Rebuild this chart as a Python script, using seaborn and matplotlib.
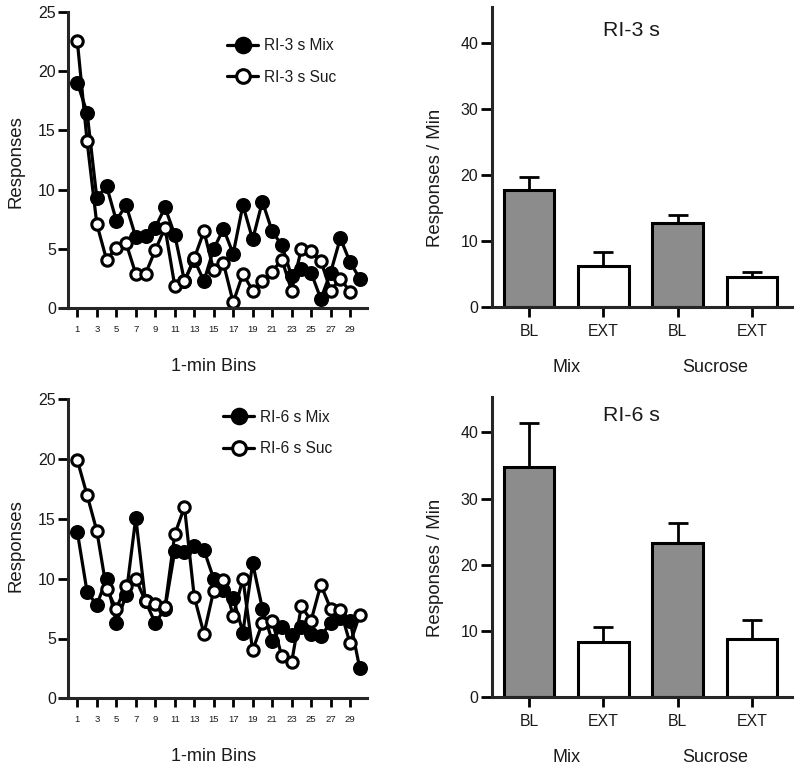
import numpy as np
import pandas as pd
import matplotlib
matplotlib.use("Agg")
import matplotlib.pyplot as plt
import matplotlib.transforms as mtransforms
import seaborn as sns

# ---------------- data ----------------
bins = list(range(1, 31))

ri3_mix = [19.0, 16.5, 9.3, 10.3, 7.4, 8.7, 6.0, 6.1, 6.8, 8.5,
           6.2, 2.3, 4.1, 2.3, 5.0, 6.7, 4.6, 8.7, 5.8, 9.0,
           6.5, 5.3, 2.7, 3.3, 3.0, 0.8, 3.0, 5.9, 3.9, 2.5]
ri3_suc = [22.5, 14.1, 7.1, 4.1, 5.1, 5.5, 2.9, 2.9, 4.9, 6.8,
           1.9, 2.3, 4.2, 6.5, 3.2, 3.8, 0.5, 2.9, 1.5, 2.3,
           3.1, 4.1, 1.5, 5.0, 4.8, 4.0, 1.5, 2.5, 1.4]

ri6_mix = [13.9, 8.9, 7.8, 10.0, 6.3, 8.6, 15.1, 8.1, 6.3, 7.5,
           12.3, 12.2, 12.7, 12.4, 10.0, 9.05, 8.4, 5.5, 11.3, 7.5,
           4.8, 6.0, 5.3, 6.0, 5.4, 5.2, 6.3, 6.7, 6.5, 2.5]
ri6_suc = [19.9, 17.0, 14.0, 9.1, 7.5, 9.4, 10.0, 8.1, 7.9, 7.6,
           13.7, 16.0, 8.5, 5.4, 9.0, 9.9, 6.9, 10.0, 4.0, 6.3,
           6.5, 3.5, 3.0, 7.7, 6.5, 9.5, 7.5, 7.4, 4.6, 7.0]

bar_conds = ["Mix BL", "Mix EXT", "Suc BL", "Suc EXT"]
bar_ticklabels = ["BL", "EXT", "BL", "EXT"]
group_labels = ["Mix", "Sucrose"]
ri3_bar_mean = [17.8, 6.3, 12.8, 4.6]
ri3_bar_err = [1.9, 2.1, 1.1, 0.7]
ri6_bar_mean = [34.8, 8.3, 23.3, 8.8]
ri6_bar_err = [6.7, 2.3, 3.0, 2.8]

# ---------------- style ----------------
sns.set_theme(style="ticks")
plt.rcParams["font.family"] = ["Liberation Sans", "DejaVu Sans"]
plt.rcParams["axes.linewidth"] = 2.2
TXT = "#1a1a1a"

fig = plt.figure(figsize=(8, 7.71), dpi=100)
W, H = 800.0, 771.0


def add_ax(left, right, top_px, bottom_px):
    return fig.add_axes([left / W, 1 - bottom_px / H,
                         (right - left) / W, (bottom_px - top_px) / H])


def line_panel(ax, mix, suc, lab_mix, lab_suc, leg_xy, ylab_y):
    sns.lineplot(x=bins[:len(mix)], y=mix, ax=ax, color="black", lw=2.3,
                 marker="o", markersize=9.4, markerfacecolor="black",
                 markeredgecolor="black", markeredgewidth=1.4,
                 label=lab_mix, clip_on=False)
    sns.lineplot(x=bins[:len(suc)], y=suc, ax=ax, color="black", lw=2.3,
                 marker="o", markersize=8.2, markerfacecolor="white",
                 markeredgecolor="black", markeredgewidth=2.2,
                 label=lab_suc, clip_on=False)
    ax.set_xlim(-0.78, 30.74)
    ax.set_ylim(0, 25)
    ax.spines["left"].set_position(("data", 0))
    ax.spines["top"].set_visible(False)
    ax.spines["right"].set_visible(False)
    ax.set_xticks(bins[::2])
    ax.set_xticklabels([str(b) for b in bins[::2]], fontsize=6.8)
    ax.set_yticks([0, 5, 10, 15, 20, 25])
    ax.tick_params(axis="y", length=7, width=2, pad=1.5, labelsize=11.5,
                   colors="black", labelcolor=TXT)
    ax.tick_params(axis="x", length=6.5, width=2, pad=5.5, colors="black",
                   labelcolor=TXT)
    ax.set_xlabel("1-min Bins", fontsize=13, color=TXT)
    ax.xaxis.set_label_coords(0.5, -0.195)
    ax.xaxis.label.set_va("center")
    ax.set_ylabel("Responses", fontsize=13.4, color=TXT)
    ax.yaxis.set_label_coords(-0.143, ylab_y)
    ax.yaxis.label.set_va("center")
    leg = ax.legend(loc="upper left", bbox_to_anchor=leg_xy, frameon=False,
                    fontsize=11.2, handlelength=2.0, handletextpad=0.35,
                    labelspacing=1.05, borderpad=0, borderaxespad=0,
                    markerscale=1.2)
    for t in leg.get_texts():
        t.set_color(TXT)


def bar_panel(ax, means, errs, title, title_y):
    df = pd.DataFrame({"cond": bar_conds, "val": means})
    sns.barplot(data=df, x="cond", y="val", hue="cond",
                palette=["#8c8c8c", "white", "#8c8c8c", "white"],
                width=0.68, edgecolor="black", linewidth=2.2,
                errorbar=None, legend=False, ax=ax, saturation=1)
    ax.errorbar(x=np.arange(len(means)), y=means,
                yerr=[np.zeros(len(errs)), errs], fmt="none",
                ecolor="black", elinewidth=2.0, capsize=7.5, capthick=2.0,
                zorder=0.5)
    ax.set_xlim(-0.507, 3.535)
    ax.set_ylim(0, 45.4)
    ax.spines["top"].set_visible(False)
    ax.spines["right"].set_visible(False)
    ax.set_xticks(range(len(means)))
    ax.set_xticklabels(bar_ticklabels, fontsize=11.4)
    ax.set_yticks([0, 10, 20, 30, 40])
    ax.tick_params(axis="y", length=8, width=2, pad=1.5, labelsize=11.5,
                   colors="black", labelcolor=TXT)
    ax.tick_params(axis="x", length=7, width=2, pad=5, colors="black",
                   labelcolor=TXT)
    ax.set_xlabel("")
    ax.set_ylabel("Responses / Min", fontsize=13.4, color=TXT)
    ax.yaxis.set_label_coords(-0.186, 0.43)
    ax.yaxis.label.set_va("center")
    ax.text(1.375, title_y, title, fontsize=15.3, ha="center", va="center",
            color=TXT)
    trans = mtransforms.blended_transform_factory(ax.transData, ax.transAxes)
    for xpos, g in zip([0.5, 2.5], group_labels):
        ax.text(xpos, -0.2, g, fontsize=13, ha="center", va="center",
                transform=trans, color=TXT)


ax1 = add_ax(60, 367, 11.7, 308.3)
line_panel(ax1, ri3_mix, ri3_suc, "RI-3 s Mix", "RI-3 s Suc",
           (0.545, 0.91), 0.494)

ax3 = add_ax(60, 367, 399.3, 698.3)
line_panel(ax3, ri6_mix, ri6_suc, "RI-6 s Mix", "RI-6 s Suc",
           (0.532, 0.965), 0.51)

ax2 = add_ax(491.5, 791.7, 7.0, 307.3)
bar_panel(ax2, ri3_bar_mean, ri3_bar_err, "RI-3 s", 41.8)

ax4 = add_ax(491.5, 791.7, 396.7, 697.3)
bar_panel(ax4, ri6_bar_mean, ri6_bar_err, "RI-6 s", 42.5)

fig.savefig("out.png", dpi=100)
